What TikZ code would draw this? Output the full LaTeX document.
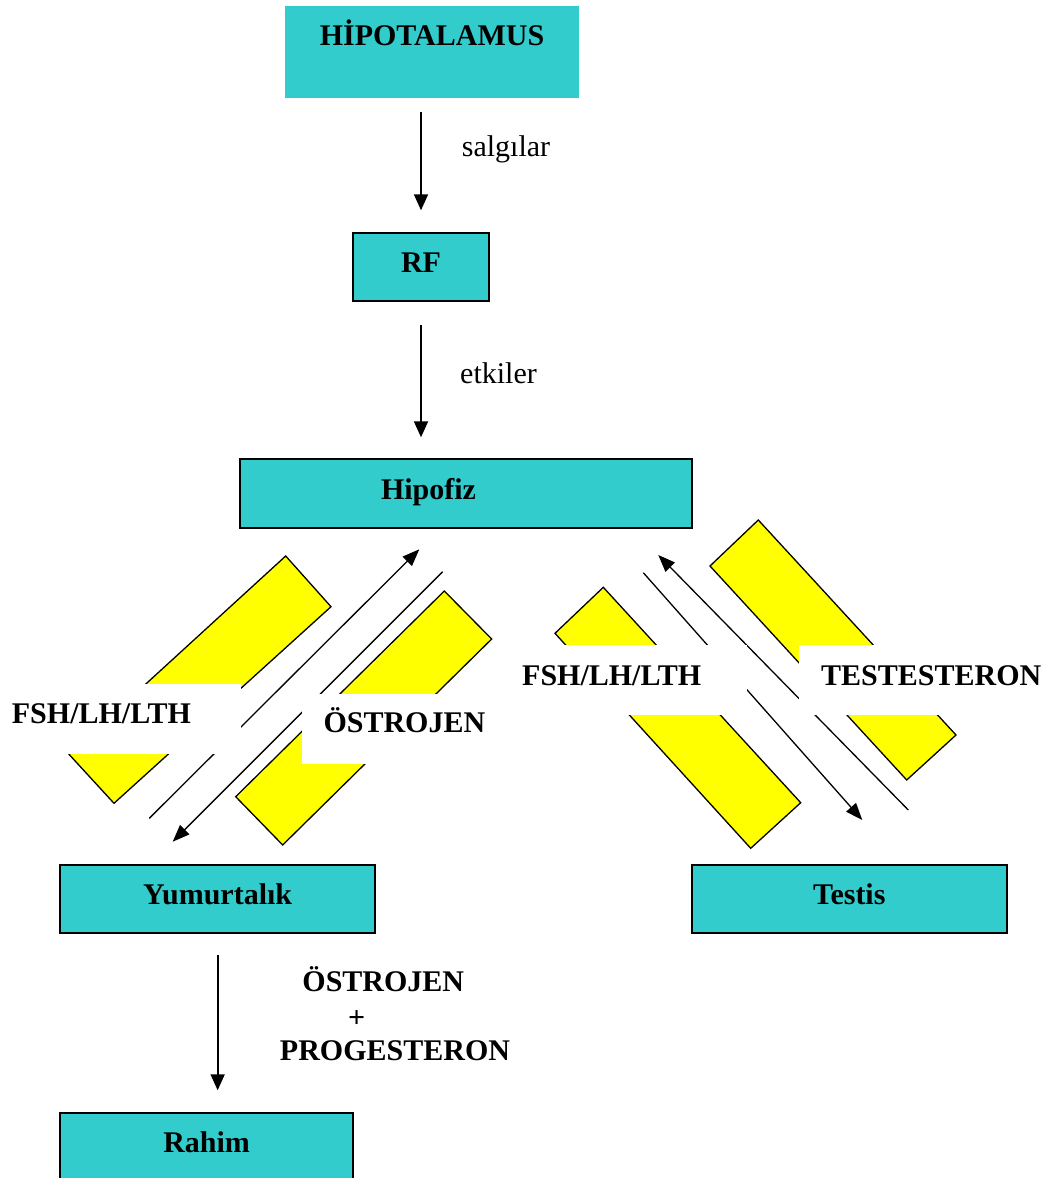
\documentclass[tikz,border=0pt]{standalone}
\usepackage{fontspec}
\setmainfont{Liberation Serif}
\usetikzlibrary{arrows.meta,calc}
\definecolor{boxcyan}{HTML}{33CCCC}
\definecolor{bandyellow}{HTML}{FFFF00}

\begin{document}
\begin{tikzpicture}[x=1pt,y=-1pt,
  every node/.style={font=\fontsize{30}{35}\selectfont\bfseries, inner sep=0pt},
  organ/.style={fill=boxcyan, draw=black, line width=2pt, text height=39pt,
                text depth=29pt, anchor=north west, align=center},
  mask/.style={fill=white, text height=40pt, text depth=30pt,
               anchor=north west, align=left},
  band/.style={fill=bandyellow, draw=black, line width=1.3pt, line join=miter},
  flow/.style={line width=1.8pt, -{Triangle[length=16pt,width=14pt]}},
  route/.style={line width=1.3pt, -{Triangle[length=17pt,width=13pt]}},
  note/.style={font=\fontsize{30}{35}\selectfont, anchor=base west},
]
\useasboundingbox (0,0) rectangle (1050,1178);

% yellow hormone bands
\draw[band] (285.7,556) -- (331,606.7) -- (114,803.3) -- (69,754.3) -- cycle;
\draw[band] (444.3,591) -- (491.7,639) -- (282.7,845) -- (235.7,796.7) -- cycle;
\draw[band] (603.3,587.3) -- (800.7,802.7) -- (750.7,848.3) -- (555,633.3) -- cycle;
\draw[band] (758.3,520) -- (956,735) -- (906.7,780) -- (710,566) -- cycle;

% diagonal hormone routes
\coordinate (lu0) at (149.3,818.3);  \coordinate (lu1) at (419.3,549.3);
\coordinate (ld0) at (442.7,571.7);  \coordinate (ld1) at (172.7,841.7);
\coordinate (rd0) at (643.3,572.7);  \coordinate (rd1) at (862.3,820);
\coordinate (ru0) at (908.3,810);    \coordinate (ru1) at (658.3,555);
\draw[route] (lu0) -- (lu1);
\draw[route] (ld0) -- (ld1);
\draw[route] (rd0) -- (rd1);
\draw[route] (ru0) -- (ru1);

% hormone labels on white patches
\node[mask, inner xsep=11.7pt, text width=217.3pt] (lfsh) at (0,683.3) {FSH/LH/LTH};
\node[mask, inner xsep=21.6pt, text width=180pt, text height=38.7pt,
      text depth=30.6pt] (lostr) at (301.7,694) {ÖSTROJEN};
\node[mask, inner xsep=7pt, text width=217.7pt] (rfsh) at (515,645) {FSH/LH/LTH};
\node[mask, inner xsep=22.7pt, text width=240pt] (rtest) at (798.3,645) {TESTESTERON};

% organs
\node[organ, draw=none, text height=39pt, text depth=53pt, text width=294pt]
  (hypo) at (284,5) {HİPOTALAMUS};
\node[organ, text width=135.4pt] (rf) at (352.3,232.3) {RF};
\node[organ, align=left, inner xsep=141pt, text width=170pt, text height=40pt,
      text depth=28.4pt] (hipofiz) at (239,458.3) {Hipofiz};
\node[organ, text width=315.3pt] (yum) at (59,864.3) {Yumurtalık};
\node[organ, text width=315.3pt] (testis) at (690.7,864.3) {Testis};
\node[organ, text width=293.3pt] (rahim) at (59,1112.3) {Rahim};

% vertical flows
\draw[flow, shorten <=13pt, shorten >=22pt] (hypo.south -| rf.north) -- (rf.north);
\draw[flow, shorten <=23pt, shorten >=21pt] (rf.south) -- (rf.south |- hipofiz.north);
\draw[flow, shorten <=21pt, shorten >=22pt] (yum.south) -- (yum.south |- rahim.north);

% flow labels
\node[note] (salg) at (461.7,156.7) {salgılar};
\node[note] (etk) at (460,383) {etkiler};
\node[anchor=base] (ostr) at (383.3,991.7) {ÖSTROJEN};
\node[anchor=base] (plus) at (356.7,1027.5) {+};
\node[anchor=base] (prog) at (395,1060) {PROGESTERON};
\end{tikzpicture}
\end{document}
